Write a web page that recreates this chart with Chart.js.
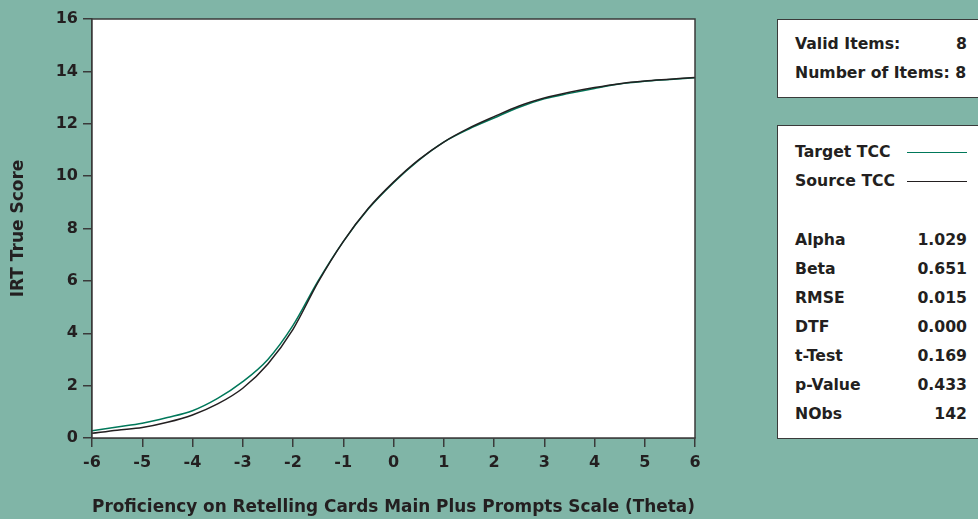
<!DOCTYPE html>
<html>
<head>
<meta charset="utf-8">
<script src="https://cdn.jsdelivr.net/npm/chart.js@4"></script>
<style>
  html, body { margin: 0; padding: 0; background: #80b5a7; }
  #wrap { position: relative; width: 978px; height: 519px; overflow: hidden; background: #80b5a7;
          font-family: "DejaVu Sans", sans-serif; font-weight: bold; color: #231f20; }
  #tcc { position: absolute; left: 0; top: 0; }
  .box { position: absolute; left: 777px; width: 220px; background: #fff; border: 1.5px solid #3a3a3a;
         box-sizing: border-box; font-size: 15.7px; }
  .row { position: absolute; left: 17px; width: 172px; height: 20px; line-height: 20px; white-space: nowrap; }
  .row .v { position: absolute; right: 0; top: 0; }
  .swatch { position: absolute; right: 0; top: 10px; width: 60px; height: 0; border-top: 1.5px solid; }
</style>
</head>
<body>
<div id="wrap">
  <canvas id="tcc" width="978" height="519"></canvas>
  <div class="box" style="top:19px;height:79px;">
    <div class="row" style="top:14px;">Valid Items:<span class="v">8</span></div>
    <div class="row" style="top:43px;">Number of Items: 8</div>
  </div>
  <div class="box" style="top:125px;height:314px;" id="stats"></div>
</div>
<script>
// theta grid and the two test characteristic curves
var theta = [-6, -5.5, -5, -4.5, -4, -3.5, -3, -2.5, -2, -1.5, -1, -0.5, 0,
             0.5, 1, 1.5, 2, 2.5, 3, 3.5, 4, 4.5, 5, 5.5, 6];
var targetTCC = [0.28, 0.42, 0.56, 0.78, 1.04, 1.51, 2.15, 3.0, 4.3, 6.0, 7.5, 8.75, 9.75,
                 10.6, 11.3, 11.8, 12.22, 12.63, 12.95, 13.16, 13.35, 13.52, 13.62, 13.69, 13.76];
var sourceTCC = [0.18, 0.3, 0.4, 0.6, 0.88, 1.3, 1.9, 2.83, 4.15, 5.95, 7.5, 8.77, 9.77,
                 10.62, 11.3, 11.83, 12.27, 12.68, 12.98, 13.2, 13.38, 13.53, 13.63, 13.7, 13.77];
var xTicks = [-6, -5, -4, -3, -2, -1, 0, 1, 2, 3, 4, 5, 6];
var yTicks = [0, 2, 4, 6, 8, 10, 12, 14, 16];

var statLabels = ['Alpha', 'Beta', 'RMSE', 'DTF', 't-Test', 'p-Value', 'NObs'];
var statValues = ['1.029', '0.651', '0.015', '0.000', '0.169', '0.433', '142'];

var targetColor = '#00785a';
var sourceColor = '#231f20';
var textColor = '#231f20';

// side panel: legend + statistics
var stats = document.getElementById('stats');
var html = '';
html += '<div class="row" style="top:16px;">Target TCC<span class="swatch" style="border-color:' + targetColor + '"></span></div>';
html += '<div class="row" style="top:45px;">Source TCC<span class="swatch" style="border-color:' + sourceColor + '"></span></div>';
for (var i = 0; i < statLabels.length; i++) {
  html += '<div class="row" style="top:' + (104 + i * 29) + 'px;">' + statLabels[i] +
          '<span class="v">' + statValues[i] + '</span></div>';
}
stats.innerHTML = html;

function toPoints(ys) {
  return theta.map(function(t, i) { return {x: t, y: ys[i]}; });
}

var plotFrame = {
  id: 'plotFrame',
  beforeDatasetsDraw: function(chart) {
    var a = chart.chartArea, ctx = chart.ctx;
    ctx.save();
    ctx.fillStyle = '#ffffff';
    ctx.fillRect(a.left, a.top, a.right - a.left, a.bottom - a.top);
    ctx.restore();
  },
  afterDatasetsDraw: function(chart) {
    var a = chart.chartArea, ctx = chart.ctx;
    ctx.save();
    ctx.strokeStyle = '#3a3a3a';
    ctx.lineWidth = 1.5;
    ctx.strokeRect(a.left, a.top, a.right - a.left, a.bottom - a.top);
    ctx.restore();
  }
};

var tickFont = {family: 'DejaVu Sans', size: 16, weight: 'bold'};
var titleFont = {family: 'DejaVu Sans', size: 17, weight: 'bold'};

new Chart(document.getElementById('tcc'), {
  type: 'line',
  data: {
    datasets: [{
      label: 'Source TCC',
      data: toPoints(sourceTCC),
      borderColor: sourceColor,
      borderWidth: 1.5,
      pointRadius: 0,
      cubicInterpolationMode: 'monotone',
      fill: false
    }, {
      label: 'Target TCC',
      data: toPoints(targetTCC),
      borderColor: targetColor,
      borderWidth: 1.5,
      pointRadius: 0,
      cubicInterpolationMode: 'monotone',
      fill: false
    }]
  },
  options: {
    responsive: false,
    animation: false,
    devicePixelRatio: 1,
    layout: {padding: {top: 19, right: 283, bottom: 0, left: 0}},
    plugins: {legend: {display: false}, tooltip: {enabled: false}},
    scales: {
      x: {
        type: 'linear', min: -6, max: 6,
        afterBuildTicks: function(s) { s.ticks = xTicks.map(function(v) { return {value: v}; }); },
        afterFit: function(s) { s.height = 81; },
        ticks: {color: textColor, font: tickFont, padding: 6, maxRotation: 0},
        grid: {drawOnChartArea: false, tickLength: 9, color: '#3a3a3a', lineWidth: 1.5},
        border: {color: '#3a3a3a', width: 1.5},
        title: {display: true, text: 'Proficiency on Retelling Cards Main Plus Prompts Scale (Theta)',
                color: textColor, font: titleFont, padding: {top: 0, bottom: 1}}
      },
      y: {
        min: 0, max: 16,
        afterBuildTicks: function(s) { s.ticks = yTicks.map(function(v) { return {value: v}; }); },
        afterFit: function(s) { s.width = 92; },
        ticks: {color: textColor, font: tickFont, padding: 5},
        grid: {drawOnChartArea: false, tickLength: 9, color: '#3a3a3a', lineWidth: 1.5},
        border: {color: '#3a3a3a', width: 1.5},
        title: {display: true, text: 'IRT True Score', color: textColor, font: titleFont,
                padding: {top: 8, bottom: 0}}
      }
    }
  },
  plugins: [plotFrame]
});
</script>
</body>
</html>
